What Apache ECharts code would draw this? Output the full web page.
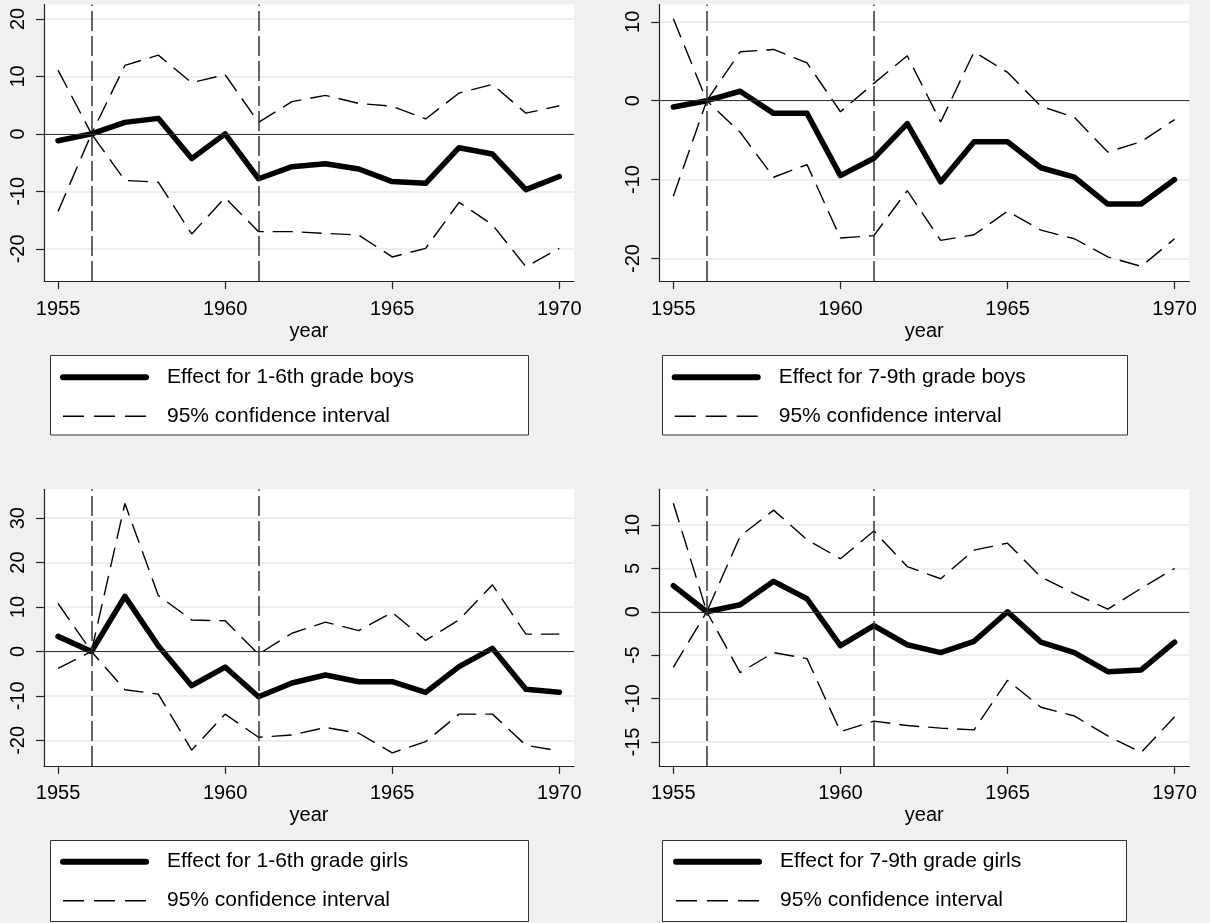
<!DOCTYPE html>
<html>
<head>
<meta charset="utf-8">
<script src="https://cdn.jsdelivr.net/npm/echarts@6/dist/echarts.min.js"></script>
<style>
  html, body { margin: 0; padding: 0; background: #f0f0f0; }
  #chart { width: 1210px; height: 923px; }
</style>
</head>
<body>
<div id="chart"></div>
<script>
// Event-study estimates by cohort year, with 95% confidence bounds.
const years = [1955, 1956, 1957, 1958, 1959, 1960, 1961, 1962, 1963, 1964, 1965, 1966, 1967, 1968, 1969, 1970];
const xTicks = [1955, 1960, 1965, 1970];
const refYears = [1956, 1961];

const boys16Effect = [-1.2, 0, 2.0, 2.7, -4.3, 0, -7.8, -5.7, -5.2, -6.1, -8.3, -8.6, -2.4, -3.5, -9.7, -7.4];
const boys16Upper  = [11.1, 0, 11.9, 13.7, 8.9, 10.3, 2.0, 5.6, 6.7, 5.3, 4.8, 2.6, 7.1, 8.6, 3.6, 4.9];
const boys16Lower  = [-13.5, 0, -8.1, -8.4, -17.4, -11.1, -17.0, -17.0, -17.3, -17.6, -21.4, -19.9, -11.9, -15.8, -23.1, -19.9];
const boys16Ticks  = [-20, -10, 0, 10, 20];

const boys79Effect = [-0.8, 0, 1.2, -1.6, -1.6, -9.5, -7.3, -2.9, -10.3, -5.2, -5.2, -8.5, -9.7, -13.1, -13.1, -10.0];
const boys79Upper  = [10.4, 0, 6.2, 6.5, 4.8, -1.4, 2.2, 5.7, -2.7, 6.2, 3.6, -0.7, -2.1, -6.5, -5.2, -2.4];
const boys79Lower  = [-12.1, 0, -4.0, -9.7, -8.1, -17.4, -17.1, -11.4, -17.7, -17.0, -14.0, -16.4, -17.5, -19.8, -21.0, -17.5];
const boys79Ticks  = [-20, -10, 0, 10];

const girls16Effect = [3.4, 0, 12.4, 1.3, -7.7, -3.5, -10.2, -7.1, -5.3, -6.8, -6.8, -9.2, -3.4, 0.7, -8.5, -9.2];
const girls16Upper  = [10.8, 0, 33.3, 12.6, 7.1, 6.9, -0.6, 4.1, 6.6, 4.7, 8.8, 2.5, 7.1, 15.0, 3.9, 3.9];
const girls16Lower  = [-3.8, 0, -8.6, -9.6, -22.2, -14.1, -19.3, -18.8, -17.1, -18.4, -22.8, -20.3, -14.1, -14.1, -21.1, -22.4];
const girls16Ticks  = [-20, -10, 0, 10, 20, 30];

const girls79Effect = [3.0, 0, 0.8, 3.5, 1.5, -3.9, -1.6, -3.8, -4.7, -3.4, 0, -3.5, -4.7, -6.9, -6.7, -3.5];
const girls79Upper  = [12.5, 0, 8.7, 11.7, 8.3, 6.1, 9.3, 5.2, 3.8, 7.1, 7.9, 4.0, 2.1, 0.3, 2.7, 5.0];
const girls79Lower  = [-6.4, 0, -7.0, -4.7, -5.4, -13.8, -12.6, -13.1, -13.4, -13.6, -7.9, -11.0, -12.0, -14.3, -16.2, -12.1];
const girls79Ticks  = [-15, -10, -5, 0, 5, 10];

const ciName = '95% confidence interval';
const FONT = '"Liberation Sans", Arial, Helvetica, sans-serif';

// Panel layout: plot rectangle, y range, legend placement and legend frame.
const panels = [
  { name: 'Effect for 1-6th grade boys', effect: boys16Effect, upper: boys16Upper, lower: boys16Lower, ticks: boys16Ticks,
    yMin: -25.6, yMax: 22.5, left: 44, top: 4.5, legendLeft: 60, legendTop: 365.3, frame: [50.5, 355.5, 478, 79.5] },
  { name: 'Effect for 7-9th grade boys', effect: boys79Effect, upper: boys79Upper, lower: boys79Lower, ticks: boys79Ticks,
    yMin: -22.87, yMax: 12.2, left: 659.3, top: 4.5, legendLeft: 671.7, legendTop: 365.3, frame: [662.5, 355.5, 465, 79.5] },
  { name: 'Effect for 1-6th grade girls', effect: girls16Effect, upper: girls16Upper, lower: girls16Lower, ticks: girls16Ticks,
    yMin: -25.75, yMax: 36.5, left: 44, top: 489.3, legendLeft: 60, legendTop: 849.7, frame: [50.5, 840.5, 478, 81] },
  { name: 'Effect for 7-9th grade girls', effect: girls79Effect, upper: girls79Upper, lower: girls79Lower, ticks: girls79Ticks,
    yMin: -17.75, yMax: 14.1, left: 659.3, top: 489.3, legendLeft: 673, legendTop: 849.7, frame: [662.5, 840.5, 464, 81] }
];

const grid = [], xAxis = [], yAxis = [], series = [], legend = [], graphic = [];

panels.forEach((p, i) => {
  grid.push({
    left: p.left, top: p.top, width: 530, height: 276.6,
    show: true, backgroundColor: '#ffffff', borderWidth: 0
  });

  xAxis.push({
    gridIndex: i, type: 'value', min: 1954.58, max: 1970.44,
    name: 'year', nameLocation: 'middle', nameGap: 40,
    nameTextStyle: { fontSize: 20, color: '#000', fontFamily: FONT },
    axisLine: { onZero: false, lineStyle: { color: '#222', width: 1.2 } },
    axisTick: { customValues: xTicks, length: 8, lineStyle: { color: '#222', width: 1.2 } },
    axisLabel: { customValues: xTicks, margin: 18, fontSize: 20, color: '#000', fontFamily: FONT,
                 formatter: v => String(v) },
    splitLine: { show: false }
  });

  yAxis.push({
    gridIndex: i, type: 'value', min: p.yMin, max: p.yMax,
    axisLine: { show: true, onZero: false, lineStyle: { color: '#222', width: 1.2 } },
    axisTick: { show: true, customValues: p.ticks, length: 8, lineStyle: { color: '#222', width: 1.2 } },
    axisLabel: { customValues: p.ticks, rotate: 90, margin: 16, fontSize: 20, color: '#000', fontFamily: FONT,
                 formatter: v => String(v) },
    splitLine: { show: true, lineStyle: { color: '#e8e8e8', width: 1.5 } }
  });

  const pts = arr => years.map((yr, k) => [yr, arr[k]]);

  series.push({
    type: 'line', name: ciName, xAxisIndex: i, yAxisIndex: i, data: pts(p.upper),
    symbol: 'none', silent: true, z: 2, emphasis: { disabled: true },
    lineStyle: { color: '#000', width: 1.4, type: [20, 9] }
  });
  series.push({
    type: 'line', name: ciName, xAxisIndex: i, yAxisIndex: i, data: pts(p.lower),
    symbol: 'none', silent: true, z: 2, emphasis: { disabled: true },
    lineStyle: { color: '#000', width: 1.4, type: [20, 9] },
    markLine: {
      silent: true, symbol: ['none', 'none'], label: { show: false }, animation: false,
      emphasis: { disabled: true },
      data: [
        { yAxis: 0, lineStyle: { type: 'solid', color: '#333', width: 1.2 } },
        ...refYears.map(yr => ({ xAxis: yr, lineStyle: { type: [20, 5], color: '#333', width: 1.5 } }))
      ]
    }
  });
  series.push({
    type: 'line', name: p.name, xAxisIndex: i, yAxisIndex: i, data: pts(p.effect),
    symbol: 'none', silent: true, z: 4, emphasis: { disabled: true },
    lineStyle: { color: '#000', width: 5.5, cap: 'round', join: 'round' }
  });

  graphic.push({
    type: 'rect', silent: true,
    shape: { x: p.frame[0], y: p.frame[1], width: p.frame[2], height: p.frame[3] },
    style: { fill: '#ffffff', stroke: '#333', lineWidth: 1 }
  });

  legend.push({
    left: p.legendLeft, top: p.legendTop, orient: 'vertical', padding: 0,
    itemGap: 15, itemWidth: 83, itemHeight: 14, selectedMode: false,
    itemStyle: { opacity: 0, color: 'rgba(0,0,0,0)', borderWidth: 0 },
    textStyle: { fontSize: 21, color: '#000', fontFamily: FONT, lineHeight: 24, padding: [0, 0, 0, 16] },
    data: [
      { name: p.name, lineStyle: { width: 6, type: 'solid', cap: 'round', color: '#000' } },
      { name: ciName, lineStyle: { width: 1.5, type: [21, 10], color: '#000' } }
    ]
  });
});

const chart = echarts.init(document.getElementById('chart'), null, { renderer: 'canvas' });
chart.setOption({
  backgroundColor: '#f0f0f0',
  animation: false,
  textStyle: { fontFamily: FONT },
  grid, xAxis, yAxis, series, legend, graphic
});
</script>
</body>
</html>
